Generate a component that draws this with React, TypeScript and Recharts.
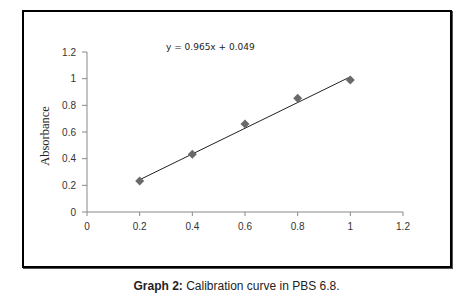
import React from "react";
import {
  ComposedChart,
  Scatter,
  Line,
  XAxis,
  YAxis,
  Label,
} from "recharts";

// concentration (x) and absorbance readings
const conc = [0.2, 0.4, 0.6, 0.8, 1.0];
const absorbance = [0.232, 0.433, 0.66, 0.853, 0.99];

// fitted line end points, y = 0.965x + 0.049
const trendX = [0.2, 1.0];
const trendY = [0.242, 1.014];

const xTicks = [0, 0.2, 0.4, 0.6, 0.8, 1, 1.2];
const yTicks = [0, 0.2, 0.4, 0.6, 0.8, 1, 1.2];

const points = conc.map((x, i) => ({ x, y: absorbance[i] }));
const trend = trendX.map((x, i) => ({ x, y: trendY[i] }));

const tickStyle = { fontSize: 10, fill: "#333", fontFamily: "'Liberation Sans', Arial, sans-serif" };

const Diamond = (props: any) => {
  const { cx, cy } = props;
  const r = 4.5;
  return (
    <polygon
      points={`${cx},${cy - r} ${cx + r},${cy} ${cx},${cy + r} ${cx - r},${cy}`}
      fill="#6a6a6a"
    />
  );
};

export default function App() {
  return (
    <div style={{ position: "relative", width: 467, height: 302, background: "#fff" }}>
      <style>{"body{margin:0}"}</style>
      <div
        style={{
          position: "absolute",
          left: 22,
          top: 10,
          width: 426,
          height: 254,
          border: "2px solid #000",
          boxShadow: "1px 1px 0 #555",
        }}
      />
      <div style={{ position: "absolute", left: 0, top: 0 }}>
        <ComposedChart
          width={467}
          height={302}
          margin={{ top: 52, right: 64, left: 47, bottom: 60 }}
        >
          <XAxis
            type="number"
            dataKey="x"
            domain={[0, 1.2]}
            ticks={xTicks}
            tickFormatter={(v) => String(v)}
            stroke="#888"
            tickSize={4}
            tickMargin={7}
            tick={tickStyle}
            height={30}
            allowDataOverflow
          />
          <YAxis
            type="number"
            dataKey="y"
            domain={[0, 1.2]}
            ticks={yTicks}
            tickFormatter={(v) => String(v)}
            stroke="#888"
            tickSize={5}
            tickMargin={6}
            tick={tickStyle}
            width={40}
          >
            <Label
              content={() => (
                <text
                  transform="translate(49,136) rotate(-90)"
                  textAnchor="middle"
                  fontFamily="'Liberation Serif', 'Times New Roman', serif"
                  fontSize={12.5}
                  fill="#222"
                >
                  Absorbance
                </text>
              )}
            />
          </YAxis>
          <Line
            data={trend}
            dataKey="y"
            type="linear"
            stroke="#222"
            strokeWidth={1}
            dot={false}
            isAnimationActive={false}
          />
          <Scatter data={points} dataKey="y" shape={<Diamond />} isAnimationActive={false} />
        </ComposedChart>
      </div>
      <div
        style={{
          position: "absolute",
          left: 166,
          top: 42,
          fontFamily: "'DejaVu Sans', Verdana, sans-serif",
          fontSize: 9,
          color: "#222",
          whiteSpace: "pre",
        }}
      >
        y = 0.965x + 0.049
      </div>
      <div
        style={{
          position: "absolute",
          left: 0,
          width: 473,
          top: 279,
          textAlign: "center",
          fontFamily: "'Liberation Sans', Arial, sans-serif",
          fontSize: 12,
          color: "#222",
        }}
      >
        <b>Graph 2:</b> Calibration curve in PBS 6.8.
      </div>
    </div>
  );
}
